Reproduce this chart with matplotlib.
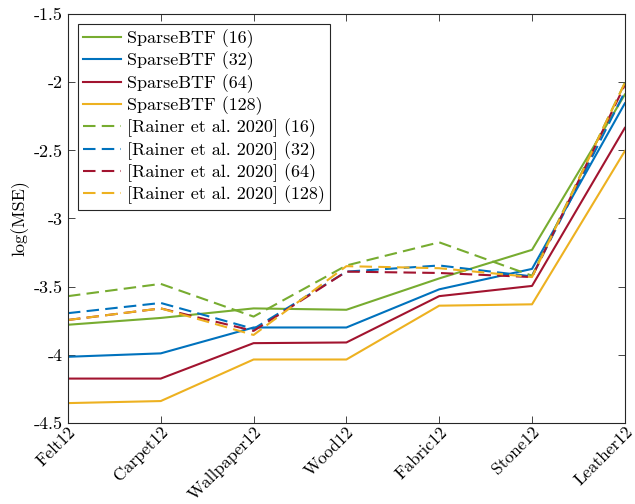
import numpy as np
import matplotlib
matplotlib.use("Agg")
import matplotlib.pyplot as plt

# materials on the x axis
materials = ["Felt12", "Carpet12", "Wallpaper12", "Wood12", "Fabric12", "Stone12", "Leather12"]

# log(MSE) per material, SparseBTF
sparse_16 = [-3.78, -3.73, -3.66, -3.67, -3.44, -3.23, -2.09]
sparse_32 = [-4.015, -3.99, -3.80, -3.80, -3.52, -3.37, -2.155]
sparse_64 = [-4.175, -4.175, -3.915, -3.91, -3.57, -3.495, -2.335]
sparse_128 = [-4.355, -4.34, -4.035, -4.035, -3.64, -3.63, -2.505]

# log(MSE) per material, Rainer et al. 2020
rainer_16 = [-3.57, -3.48, -3.72, -3.345, -3.175, -3.42, -2.005]
rainer_32 = [-3.695, -3.62, -3.81, -3.39, -3.345, -3.425, -2.07]
rainer_64 = [-3.745, -3.66, -3.825, -3.39, -3.40, -3.43, -2.02]
rainer_128 = [-3.745, -3.66, -3.855, -3.35, -3.365, -3.43, -2.005]

yticks = [-4.5, -4, -3.5, -3, -2.5, -2, -1.5]
ytick_labels = ["-4.5", "-4", "-3.5", "-3", "-2.5", "-2", "-1.5"]

green = "#77AC30"
blue = "#0072BD"
red = "#A2142F"
yellow = "#EDB120"

plt.rcParams["font.family"] = "serif"
plt.rcParams["font.serif"] = ["cmr10", "DejaVu Serif"]
plt.rcParams["mathtext.fontset"] = "cm"
plt.rcParams["axes.unicode_minus"] = False

fig = plt.figure(figsize=(6.35, 5.04), dpi=100)
ax = fig.add_axes([0.107, 0.161, 0.877, 0.811])

x = np.arange(len(materials))
lw = 1.5
dash = (6, 3)
fs = 13

ax.plot(x, sparse_16, "-", color=green, lw=lw, label="SparseBTF (16)")
ax.plot(x, sparse_32, "-", color=blue, lw=lw, label="SparseBTF (32)")
ax.plot(x, sparse_64, "-", color=red, lw=lw, label="SparseBTF (64)")
ax.plot(x, sparse_128, "-", color=yellow, lw=lw, label="SparseBTF (128)")
ax.plot(x, rainer_16, "--", dashes=dash, color=green, lw=lw, label="[Rainer et al. 2020] (16)")
ax.plot(x, rainer_32, "--", dashes=dash, color=blue, lw=lw, label="[Rainer et al. 2020] (32)")
ax.plot(x, rainer_64, "--", dashes=dash, color=red, lw=lw, label="[Rainer et al. 2020] (64)")
ax.plot(x, rainer_128, "--", dashes=dash, color=yellow, lw=lw, label="[Rainer et al. 2020] (128)")

ax.set_xlim(0, len(materials) - 1)
ax.set_ylim(-4.5, -1.5)
ax.set_xticks(x)
ax.set_xticklabels(materials, rotation=45, ha="right", va="top",
                   rotation_mode="anchor", fontsize=12.5)
ax.set_yticks(yticks)
ax.set_yticklabels(ytick_labels, fontsize=fs)
ax.set_ylabel("log(MSE)", fontsize=fs, labelpad=3)

axis_col = "#262626"
for side in ax.spines.values():
    side.set_color(axis_col)
    side.set_linewidth(0.8)
ax.tick_params(direction="in", top=True, right=True, length=5, width=0.6,
               colors=axis_col, labelcolor="black", pad=4)
ax.tick_params(axis="x", pad=1)

leg = ax.legend(loc="upper left", bbox_to_anchor=(0.018, 0.976), borderaxespad=0,
                fontsize=fs, handlelength=2.1, handletextpad=0.3,
                labelspacing=0.2, borderpad=0.3, fancybox=False, framealpha=1)
leg.get_frame().set_edgecolor("#262626")
leg.get_frame().set_linewidth(0.8)

fig.savefig("out.png", dpi=100)
